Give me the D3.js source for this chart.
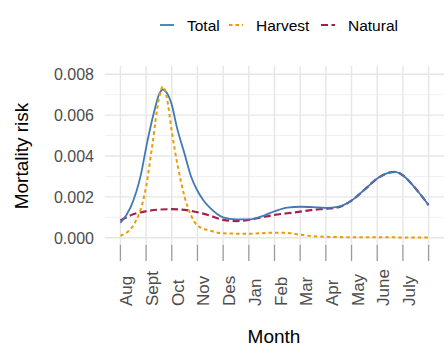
<!DOCTYPE html>
<html><head><meta charset="utf-8">
<script src="https://cdn.jsdelivr.net/npm/d3@7"></script>
<style>
body{margin:0;background:#fff;}
text{font-family:"Liberation Sans",Arial,sans-serif;}
</style></head>
<body><svg id="c" width="448" height="359"></svg>
<script>
// Month labels (tick 0..11), 13 ticks 0..12
const monthLabels = ["Aug","Sept","Oct","Nov","Des","Jan","Feb","Mar","Apr","May","June","July"];
const tickPositions = [0,1,2,3,4,5,6,7,8,9,10,11,12];
const yTicks = [0, 0.002, 0.004, 0.006, 0.008];
const yMinor = [0.001, 0.003, 0.005, 0.007];

// Series (x in months since Aug, values in mortality risk)
const totalX = [0,0.4,0.8,1.0,1.3,1.5,1.65,1.8,2.0,2.2,2.5,2.75,3.0,3.25,3.5,4,4.5,5,5.5,6,6.5,7,7.5,8,8.5,9,9.5,10,10.5,10.7,11,11.5,12];
const totalY = [0.00073,0.0015,0.0031,0.0044,0.0061,0.0070,0.00725,0.0071,0.0065,0.0054,0.0041,0.0030,0.0023,0.0018,0.00145,0.00100,0.00090,0.00090,0.00105,0.00130,0.00148,0.00152,0.00150,0.00146,0.00152,0.00182,0.00235,0.0029,0.0032,0.00322,0.00305,0.0024,0.0016];

const harvestX = [0,0.5,1.0,1.25,1.5,1.65,1.8,2.0,2.25,2.5,2.75,3.0,3.5,4,5,6,6.5,7,7.5,8,9,10,11,12];
const harvestY = [0.0001,0.0006,0.0025,0.0046,0.0068,0.0074,0.0069,0.0052,0.0034,0.0020,0.0011,0.0006,0.00035,0.00022,0.00020,0.00025,0.00024,0.00015,0.00008,0.00005,0.00003,0.00003,0.00002,0.00002];

const naturalX = [0,0.5,1,1.5,2,2.5,3,3.5,4,4.5,5,5.5,6,6.5,7,7.5,8,8.5,9,9.5,10,10.5,10.7,11,11.5,12];
const naturalY = [0.00085,0.00115,0.0013,0.00138,0.0014,0.00137,0.00125,0.00108,0.00088,0.00082,0.00088,0.0010,0.00112,0.0012,0.00128,0.00137,0.00142,0.0015,0.00182,0.00235,0.0029,0.0032,0.00322,0.00305,0.0024,0.0016];

const seriesNames = ["Total","Harvest","Natural"];
const colors = {Total:"#3f7ab4", Harvest:"#e69f00", Natural:"#a3214f"};

const svg = d3.select("#c");
const x = d3.scaleLinear().domain([-0.6, 12.6]).range([105, 444]);
const y = d3.scaleLinear().domain([-0.0004, 0.0084]).range([246, 66]);

// grid
const g = svg.append("g");
g.selectAll(".ymin").data(yMinor).join("line")
  .attr("x1",105).attr("x2",444).attr("y1",d=>y(d)).attr("y2",d=>y(d))
  .attr("stroke","#f0f0f0").attr("stroke-width",1);
g.selectAll(".ymaj").data(yTicks).join("line")
  .attr("x1",105).attr("x2",444).attr("y1",d=>y(d)).attr("y2",d=>y(d))
  .attr("stroke","#e6e6e6").attr("stroke-width",1.4);
g.selectAll(".xmaj").data(tickPositions).join("line")
  .attr("x1",d=>x(d)).attr("x2",d=>x(d)).attr("y1",66).attr("y2",246)
  .attr("stroke","#e6e6e6").attr("stroke-width",1.4);

// x ticks
g.selectAll(".xt").data(tickPositions).join("line")
  .attr("x1",d=>x(d)).attr("x2",d=>x(d)).attr("y1",245).attr("y2",261)
  .attr("stroke","#9a9a9a").attr("stroke-width",1.3);

// y labels
svg.selectAll(".yl").data(yTicks).join("text")
  .attr("x",94).attr("y",d=>y(d)).attr("dy","0.36em")
  .attr("text-anchor","end").attr("font-size",16).attr("fill","#4d4d4d")
  .text(d=>d3.format(".3f")(d));

// x labels
svg.selectAll(".xl").data(monthLabels).join("text")
  .attr("transform",(d,i)=>`translate(${x(i)+12},306) rotate(-90)`)
  .attr("text-anchor","start").attr("font-size",17).attr("fill","#4d4d4d")
  .text(d=>d);

// titles
svg.append("text").attr("x",274).attr("y",343).attr("text-anchor","middle")
  .attr("font-size",19).attr("fill","#000").text("Month");
svg.append("text").attr("transform","translate(28,156) rotate(-90)")
  .attr("text-anchor","middle").attr("font-size",19).attr("fill","#000").text("Mortality risk");

// lines
const line = d3.line().x(d=>x(d[0])).y(d=>y(d[1])).curve(d3.curveMonotoneX);
const data = {
  Total: totalX.map((v,i)=>[v,totalY[i]]),
  Harvest: harvestX.map((v,i)=>[v,harvestY[i]]),
  Natural: naturalX.map((v,i)=>[v,naturalY[i]])
};
const styles = {
  Total:{w:1.8,dash:null},
  Harvest:{w:2,dash:"3.5,3"},
  Natural:{w:2.2,dash:"7,3.5"}
};
["Natural","Total","Harvest"].forEach(k=>{
  svg.append("path").datum(data[k]).attr("d",line)
    .attr("fill","none").attr("stroke",colors[k]).attr("stroke-width",styles[k].w)
    .attr("stroke-dasharray",styles[k].dash);
});

// legend
const legX = [160,229,321];
const legTX = [187,256,348];
seriesNames.forEach((k,i)=>{
  svg.append("line").attr("x1",legX[i]).attr("x2",legX[i]+14).attr("y1",25).attr("y2",25)
    .attr("stroke",colors[k]).attr("stroke-width",styles[k].w).attr("stroke-dasharray",styles[k].dash);
  svg.append("text").attr("x",legTX[i]).attr("y",25).attr("dy","0.36em")
    .attr("font-size",15.5).attr("fill","#000").text(k);
});
</script></body></html>
